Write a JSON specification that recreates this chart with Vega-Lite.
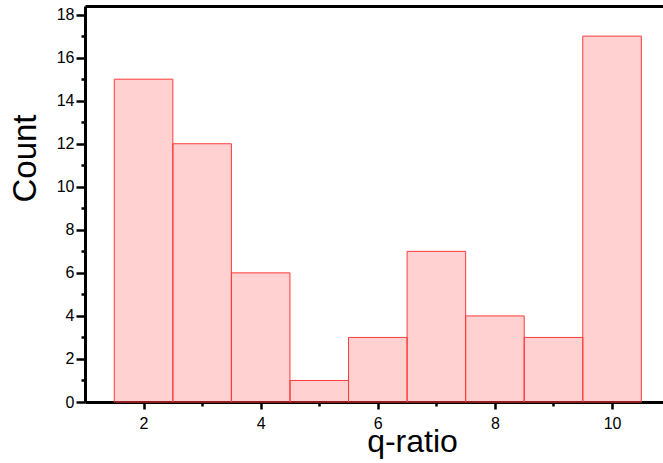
{
  "$schema": "https://vega.github.io/schema/vega-lite/v6.json",
  "width": 578,
  "height": 396,
  "autosize": "none",
  "padding": {"left": 85, "top": 6, "right": 0, "bottom": 61},
  "background": "white",
  "config": {
    "view": {"stroke": null},
    "font": "Liberation Sans",
    "axis": {
      "grid": false,
      "labelFont": "Liberation Sans",
      "titleFont": "Liberation Sans",
      "labelColor": "black",
      "titleColor": "black",
      "domainColor": "black",
      "tickColor": "black",
      "titleFontWeight": "normal"
    }
  },
  "data": {
    "values": [
      {"start": 1.5, "end": 2.5, "count": 15},
      {"start": 2.5, "end": 3.5, "count": 12},
      {"start": 3.5, "end": 4.5, "count": 6},
      {"start": 4.5, "end": 5.5, "count": 1},
      {"start": 5.5, "end": 6.5, "count": 3},
      {"start": 6.5, "end": 7.5, "count": 7},
      {"start": 7.5, "end": 8.5, "count": 4},
      {"start": 8.5, "end": 9.5, "count": 3},
      {"start": 9.5, "end": 10.5, "count": 17}
    ]
  },
  "layer": [
    {
      "mark": {"type": "bar", "fill": "#ff0000", "fillOpacity": 0.18, "stroke": "#ff3b3b", "strokeWidth": 1},
      "encoding": {
        "x": {
          "field": "start", "type": "quantitative",
          "scale": {"domain": [1, 10.87], "nice": false, "zero": false},
          "axis": {
            "orient": "bottom", "values": [2, 4, 6, 8, 10], "title": "q-ratio",
            "titleFontSize": 32, "labelFontSize": 16, "domainWidth": 3,
            "tickWidth": 2.5, "tickSize": 7, "labelPadding": 6,
            "titleX": 327, "titleY": 49, "titleAlign": "center", "titleBaseline": "alphabetic"
          }
        },
        "x2": {"field": "end"},
        "y": {
          "field": "count", "type": "quantitative",
          "scale": {"domain": [0, 18.4], "nice": false},
          "axis": {
            "orient": "left", "values": [0, 2, 4, 6, 8, 10, 12, 14, 16, 18], "title": "Count",
            "titleFontSize": 33, "labelFontSize": 16, "domainWidth": 3,
            "tickWidth": 2.5, "tickSize": 9, "labelPadding": 2,
            "titleX": -50, "titleY": 152, "titleAngle": 270, "titleAlign": "center", "titleBaseline": "alphabetic"
          }
        },
        "y2": {"datum": 0}
      }
    },
    {
      "mark": {"type": "bar", "opacity": 0},
      "encoding": {
        "x": {
          "field": "start", "type": "quantitative",
          "axis": {"orient": "bottom", "values": [3, 5, 7, 9], "labels": false, "domain": false, "title": null, "tickWidth": 2.5, "tickSize": 4}
        },
        "x2": {"field": "end"},
        "y": {
          "field": "count", "type": "quantitative",
          "axis": {"orient": "left", "values": [1, 3, 5, 7, 9, 11, 13, 15, 17], "labels": false, "domain": false, "title": null, "tickWidth": 2.5, "tickSize": 4}
        },
        "y2": {"datum": 0}
      }
    },
    {
      "mark": {"type": "bar", "opacity": 0},
      "encoding": {
        "x": {
          "field": "start", "type": "quantitative",
          "axis": {"orient": "top", "labels": false, "ticks": false, "domain": true, "domainWidth": 3, "title": null}
        },
        "x2": {"field": "end"},
        "y": {"field": "count", "type": "quantitative", "axis": null},
        "y2": {"datum": 0}
      }
    }
  ],
  "resolve": {"axis": {"x": "independent", "y": "independent"}}
}
